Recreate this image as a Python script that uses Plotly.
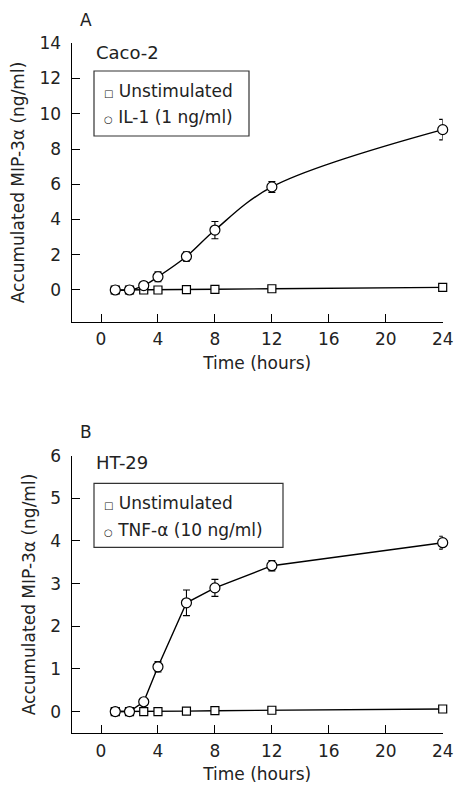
import plotly.graph_objects as go

W, H = 454, 789

time_h = [1, 2, 3, 4, 6, 8, 12, 24]

# Panel A (Caco-2)
a_unstim = [0, 0, 0, 0, 0.02, 0.04, 0.07, 0.15]
a_il1 = [0, 0, 0.25, 0.75, 1.9, 3.4, 5.85, 9.1]
a_il1_err = [0, 0, 0.05, 0.28, 0.26, 0.49, 0.31, 0.58]

# Panel B (HT-29)
b_unstim = [0, 0, 0, 0, 0.01, 0.02, 0.03, 0.06]
b_tnf = [0, 0, 0.23, 1.05, 2.55, 2.9, 3.42, 3.96]
b_tnf_err = [0, 0, 0.03, 0.12, 0.3, 0.2, 0.12, 0.15]

x_ticks = [0, 4, 8, 12, 16, 20, 24]
a_yticks = [0, 2, 4, 6, 8, 10, 12, 14]
b_yticks = [0, 1, 2, 3, 4, 5, 6]

FONT = "DejaVu Sans"
TXT = "#222222"


def px_x(p):
    return p / W


def px_y(p):
    return 1 - p / H


fig = go.Figure()

ci = dict(symbol="circle", size=10, color="white", line=dict(width=1.2, color="black"))


def add_panel(xa, ya, unstim, stim, err, shape):
    fig.add_trace(go.Scatter(x=time_h, y=unstim, mode="lines+markers", xaxis=xa, yaxis=ya,
                             line=dict(color="black", width=1.4),
                             marker=dict(symbol="square", size=8, color="white",
                                         line=dict(width=1.2, color="black")),
                             cliponaxis=False, showlegend=False))
    fig.add_trace(go.Scatter(x=time_h, y=stim, mode="lines+markers", xaxis=xa, yaxis=ya,
                             line=dict(color="black", width=1.4, shape=shape, smoothing=1.0),
                             marker=ci,
                             error_y=dict(type="data", array=err, visible=True, color="black",
                                          thickness=1.1, width=3.5),
                             cliponaxis=False, showlegend=False))


add_panel("x", "y", a_unstim, a_il1, a_il1_err, "spline")
add_panel("x2", "y2", b_unstim, b_tnf, b_tnf_err, "linear")

x0, x1 = px_x(71.7), px_x(442.7)
axis_common = dict(showline=True, linecolor="black", linewidth=1.2, ticks="inside",
                   ticklen=8, tickwidth=1.2, tickcolor="black", showgrid=False,
                   zeroline=False, automargin=False,
                   tickfont=dict(family=FONT, size=17, color=TXT))

ytitle = "Accumulated MIP-3α (ng/ml)"
tfont = dict(size=17, family=FONT, color=TXT)

fig.update_layout(
    width=W, height=H,
    margin=dict(l=0, r=0, t=0, b=0),
    paper_bgcolor="white", plot_bgcolor="white",
    font=dict(family=FONT, color=TXT, size=17),
    xaxis=dict(domain=[x0, x1], range=[-2.06, 24], tickvals=x_ticks, anchor="y",
               title=dict(text="Time (hours)", font=tfont, standoff=8),
               ticklabelstandoff=2, **axis_common),
    yaxis=dict(domain=[px_y(321.7), px_y(43.3)], range=[-1.8, 14], tickvals=a_yticks, anchor="x",
               title=dict(text=ytitle, font=tfont, standoff=10),
               ticklabelstandoff=6, **axis_common),
    xaxis2=dict(domain=[x0, x1], range=[-2.06, 24], tickvals=x_ticks, anchor="y2",
                title=dict(text="Time (hours)", font=tfont, standoff=8),
                ticklabelstandoff=2, **axis_common),
    yaxis2=dict(domain=[px_y(733.3), px_y(455.7)], range=[-0.51, 6], tickvals=b_yticks, anchor="x2",
                title=dict(text=ytitle, font=tfont, standoff=10),
                ticklabelstandoff=6, **axis_common),
)

SYM = "<span style='font-size:10px'>{}</span> "
annots = [
    ("A", 78, 20, 17),
    ("Caco-2", 94, 52, 18),
    ("B", 78, 432, 17),
    ("HT-29", 94, 463, 18),
    (SYM.format("□") + "Unstimulated", 102, 91, 17),
    (SYM.format("○") + "IL-1 (1 ng/ml)", 102, 117, 17),
    (SYM.format("□") + "Unstimulated", 102, 503, 17),
    (SYM.format("○") + "TNF-α (10 ng/ml)", 102, 530, 17),
]
for text, x, y, s in annots:
    fig.add_annotation(text=text, x=px_x(x), y=px_y(y), xref="paper", yref="paper",
                       xanchor="left", yanchor="middle", showarrow=False,
                       font=dict(family=FONT, size=s, color=TXT))

for (bx0, by0, bx1, by1) in [(94, 71, 249, 136), (94, 483.3, 283, 547.3)]:
    fig.add_shape(type="rect", xref="paper", yref="paper",
                  x0=px_x(bx0), x1=px_x(bx1), y0=px_y(by1), y1=px_y(by0),
                  line=dict(color="#333333", width=1.2), fillcolor="rgba(0,0,0,0)")

fig.write_html("out.html", config={"displayModeBar": False},
               post_script="document.body.style.margin='0';document.body.style.overflow='hidden';")
